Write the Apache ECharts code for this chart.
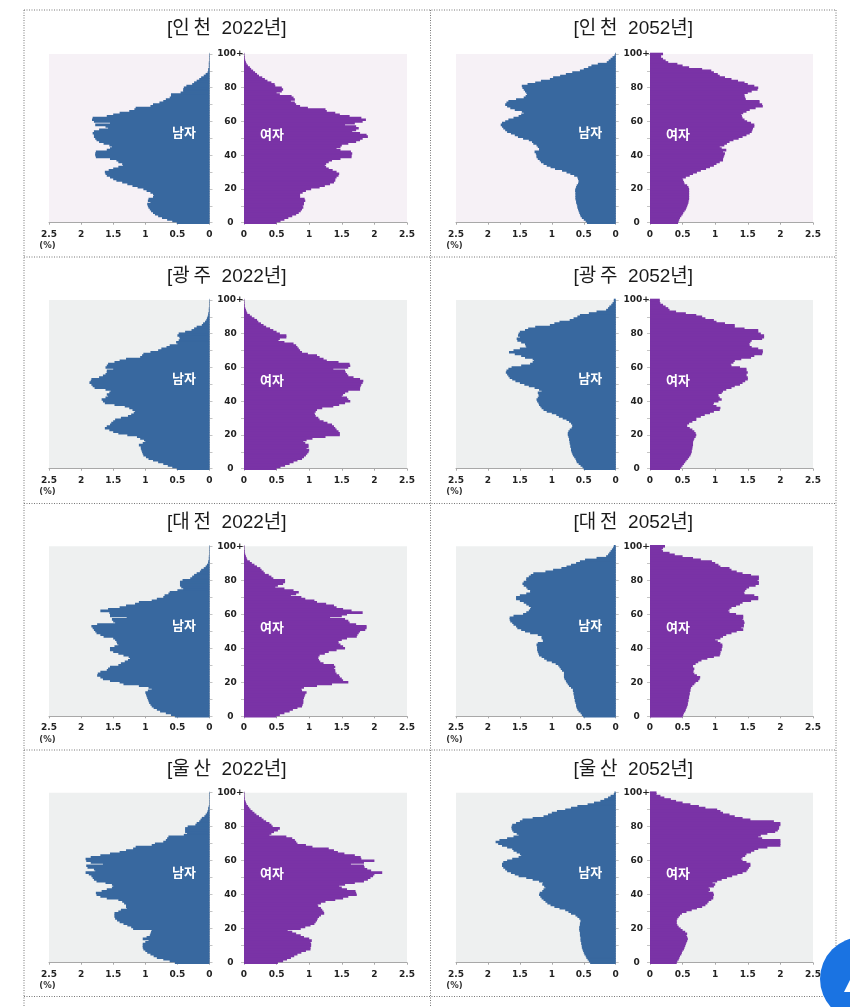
<!DOCTYPE html>
<html lang="ko">
<head>
<meta charset="utf-8">
<style>html,body{margin:0;padding:0;background:#fff}#c{width:850px;height:1007px}</style>
<script src="https://cdn.jsdelivr.net/npm/echarts@6/dist/echarts.min.js"></script>
</head>
<body>
<div id="c"></div>
<script>
const xTicks = 2.5;
const incheon22M = [.51,.58,.66,.74,.80,.85,.88,.91,.93,.95, .96,.97,.92,.96,.95,.88,.87,.88,.92,.98, 1.03,1.12,1.20,1.28,1.36,1.45,1.50,1.55,1.60,1.62, 1.63,1.57,1.50,1.42,1.35,1.36,1.42,1.45,1.55,1.77, 1.78,1.78,1.77,1.60,1.55,1.52,1.56,1.65,1.72,1.76, 1.78,1.80,1.80,1.82,1.80,1.72,1.58,1.62,1.78,1.55, 1.80,1.83,1.82,1.60,1.50,1.40,1.25,1.17,1.15,.92, .88,.78,.72,.68,.62,.60,.60,.45,.41,.41, .40,.36,.27,.24,.20,.16,.13,.09,.06,.03, .02,.02,.01,.01,.01,.01,.005,.005,.005,.005,.005];
const incheon22F = [.50,.56,.62,.68,.74,.80,.84,.87,.89,.91, .90,.92,.92,.94,.93,.86,.86,.86,.90,.95, 1.03,1.16,1.24,1.32,1.38,1.40,1.40,1.42,1.45,1.46, 1.42,1.36,1.30,1.26,1.24,1.26,1.30,1.35,1.48,1.65, 1.65,1.66,1.64,1.48,1.42,1.48,1.50,1.60,1.72,1.78, 1.82,1.90,1.88,1.78,1.66,1.72,1.76,1.72,1.55,1.70, 1.82,1.87,1.80,1.62,1.47,1.40,1.27,1.25,.98,.86, .80,.78,.72,.78,.76,.73,.55,.50,.58,.60, .58,.48,.47,.42,.36,.32,.28,.23,.20,.17, .14,.11,.09,.06,.04,.03,.02,.01,.01,.005,.005];
const incheon52M = [.45,.47,.50,.53,.55,.56,.57,.58,.59,.60, .60,.61,.62,.62,.63,.63,.63,.63,.63,.635, .63,.62,.61,.59,.58,.58,.59,.60,.65,.71, .77,.84,.95,1.02,1.08,1.13,1.17,1.19,1.22,1.24, 1.24,1.25,1.27,1.20,1.20,1.22,1.24,1.29,1.31,1.36, 1.45,1.53,1.58,1.64,1.70,1.73,1.76,1.78,1.80,1.78, 1.73,1.68,1.60,1.52,1.48,1.44,1.47,1.58,1.65,1.70, 1.73,1.71,1.68,1.56,1.44,1.41,1.39,1.40,1.42,1.44, 1.46,1.47,1.38,1.26,1.17,1.03,.98,.87,.78,.68, .56,.50,.43,.38,.28,.14,.11,.08,.05,.02,.01];
const incheon52F = [.43,.44,.45,.46,.48,.50,.51,.53,.55,.56, .57,.58,.59,.59,.60,.60,.60,.60,.60,.60, .60,.59,.57,.53,.52,.51,.50,.55,.61,.66, .72,.78,.86,.92,.98,1.02,1.07,1.12,1.12,1.13, 1.14,1.15,1.12,1.17,1.10,1.07,1.14,1.18,1.22,1.28, 1.36,1.42,1.48,1.53,1.56,1.57,1.58,1.60,1.60,1.55, 1.49,1.45,1.42,1.41,1.40,1.43,1.48,1.53,1.62,1.73, 1.72,1.68,1.68,1.47,1.46,1.45,1.45,1.50,1.56,1.65, 1.66,1.60,1.50,1.45,1.35,1.25,1.15,1.07,1.04,.98, .94,.80,.60,.50,.42,.28,.24,.20,.17,.17,.20];
const gwangju22M = [.51,.58,.65,.72,.80,.88,.95,.99,1.03,1.04, 1.05,1.06,1.07,1.07,1.10,1.04,1.00,1.02,1.08,1.13, 1.28,1.42,1.50,1.56,1.63,1.60,1.55,1.53,1.50,1.47, 1.38,1.27,1.22,1.18,1.16,1.20,1.25,1.32,1.48,1.63, 1.66,1.68,1.62,1.58,1.60,1.56,1.54,1.62,1.79,1.82, 1.84,1.87,1.85,1.84,1.72,1.66,1.62,1.60,1.60,1.50, 1.62,1.60,1.58,1.48,1.40,1.30,1.08,1.05,1.03,.92, .80,.75,.67,.62,.50,.52,.48,.46,.47,.50, .48,.38,.28,.24,.20,.12,.10,.07,.05,.04, .03,.02,.02,.01,.01,.01,.005,.005,.005,.005,.005];
const gwangju22F = [.50,.56,.63,.70,.76,.82,.89,.92,.95,.97, .99,1.00,.96,.99,.99,.94,.91,.96,1.05,1.25, 1.47,1.47,1.45,1.42,1.40,1.38,1.35,1.28,1.22,1.16, 1.14,1.10,1.09,1.08,1.10,1.12,1.20,1.37,1.46,1.55, 1.63,1.60,1.58,1.50,1.52,1.55,1.60,1.78,1.78,1.79, 1.80,1.82,1.83,1.78,1.68,1.60,1.58,1.56,1.55,1.37, 1.60,1.63,1.62,1.45,1.27,1.22,1.16,1.12,.98,.89, .86,.84,.82,.80,.76,.62,.53,.55,.65,.65, .55,.50,.45,.40,.34,.30,.26,.22,.20,.16, .12,.09,.05,.04,.03,.02,.01,.01,.005,.005,.005];
const gwangju52M = [.50,.52,.55,.58,.61,.62,.63,.65,.67,.68, .69,.70,.70,.71,.71,.72,.72,.73,.73,.74, .75,.75,.74,.72,.69,.68,.68,.70,.73,.77, .83,.89,.93,1.00,1.08,1.13,1.16,1.18,1.20,1.21, 1.23,1.24,1.22,1.20,1.21,1.22,1.16,1.20,1.27,1.36, 1.43,1.50,1.57,1.62,1.66,1.68,1.70,1.72,1.71,1.68, 1.63,1.48,1.34,1.30,1.28,1.30,1.42,1.48,1.58,1.67, 1.60,1.50,1.40,1.41,1.42,1.48,1.54,1.55,1.50,1.53, 1.52,1.50,1.42,1.37,1.26,1.03,.96,.88,.72,.66, .60,.56,.42,.30,.15,.12,.10,.07,.05,.03,.03];
const gwangju52F = [.46,.48,.50,.52,.54,.56,.58,.60,.62,.63, .64,.64,.65,.65,.66,.66,.66,.67,.68,.70, .71,.70,.68,.65,.61,.57,.57,.60,.65,.71, .71,.78,.84,.92,.98,1.07,1.08,1.02,.97,.98, 1.05,1.10,1.07,1.05,1.05,1.10,1.12,1.17,1.25,1.30, 1.38,1.42,1.46,1.50,1.50,1.48,1.48,1.50,1.48,1.48, 1.38,1.25,1.24,1.28,1.30,1.40,1.55,1.60,1.72,1.73, 1.73,1.66,1.56,1.53,1.52,1.54,1.56,1.72,1.75,1.75, 1.70,1.66,1.66,1.45,1.30,1.30,1.15,1.02,.98,.85, .80,.71,.55,.40,.30,.28,.24,.20,.16,.15,.15];
const daejeon22M = [.54,.60,.68,.77,.82,.87,.90,.92,.94,.95, .96,.97,.98,.99,1.00,.96,.90,.95,1.10,1.34, 1.40,1.55,1.66,1.70,1.75,1.74,1.70,1.60,1.58,1.55, 1.42,1.38,1.32,1.27,1.24,1.26,1.34,1.42,1.50,1.55, 1.55,1.48,1.42,1.44,1.45,1.47,1.50,1.65,1.70,1.76, 1.78,1.80,1.82,1.84,1.75,1.47,1.50,1.52,1.29,1.55, 1.55,1.56,1.70,1.58,1.40,1.30,1.16,1.10,.90,.82, .72,.70,.64,.62,.50,.41,.44,.46,.46,.46, .42,.30,.27,.24,.20,.15,.13,.09,.06,.04, .02,.02,.01,.01,.01,.005,.005,.005,.005,.005,.005];
const daejeon22F = [.50,.55,.62,.70,.75,.82,.89,.90,.91,.91, .91,.92,.93,.94,.96,.89,.88,.92,1.12,1.35, 1.60,1.52,1.50,1.47,1.46,1.42,1.40,1.40,1.38,1.40, 1.38,1.22,1.17,1.15,1.14,1.14,1.16,1.24,1.30,1.42, 1.55,1.52,1.48,1.45,1.45,1.50,1.58,1.73,1.74,1.76, 1.78,1.86,1.88,1.88,1.72,1.62,1.60,1.55,1.32,1.50, 1.58,1.82,1.65,1.52,1.42,1.38,1.26,1.12,1.08,.94, .88,.72,.80,.84,.76,.62,.48,.52,.60,.63, .63,.45,.42,.38,.32,.30,.27,.25,.20,.16, .12,.09,.05,.04,.03,.02,.01,.01,.005,.005,.005];
const daejeon52M = [.51,.53,.55,.58,.60,.61,.62,.62,.63,.64, .64,.65,.65,.66,.66,.67,.67,.70,.73,.75, .77,.78,.80,.81,.81,.81,.81,.84,.86,.88, .90,.94,1.00,1.08,1.12,1.16,1.20,1.21,1.22,1.23, 1.23,1.23,1.24,1.22,1.14,1.14,1.16,1.16,1.22,1.34, 1.42,1.48,1.54,1.56,1.60,1.62,1.65,1.66,1.66,1.60, 1.45,1.40,1.36,1.34,1.33,1.36,1.40,1.44,1.50,1.56, 1.56,1.50,1.40,1.34,1.34,1.38,1.40,1.44,1.46,1.44, 1.40,1.40,1.36,1.33,1.29,1.10,.98,.85,.77,.70, .62,.56,.48,.30,.15,.12,.10,.08,.06,.04,.03];
const daejeon52F = [.50,.51,.52,.54,.55,.56,.57,.58,.58,.59, .59,.60,.60,.61,.61,.62,.62,.63,.65,.68, .70,.74,.76,.77,.72,.68,.66,.67,.68,.66, .66,.70,.74,.79,.88,.98,1.07,1.08,1.08,1.10, 1.10,1.11,1.11,1.08,1.04,1.00,1.08,1.12,1.17,1.25, 1.33,1.43,1.40,1.44,1.44,1.45,1.44,1.42,1.43,1.43, 1.32,1.22,1.20,1.22,1.25,1.32,1.38,1.42,1.55,1.66, 1.66,1.60,1.45,1.44,1.46,1.48,1.52,1.62,1.67,1.67, 1.65,1.67,1.67,1.55,1.42,1.33,1.25,1.22,1.08,1.05, 1.00,.95,.78,.66,.50,.38,.30,.20,.18,.20,.23];
const ulsan22M = [.54,.62,.72,.82,.87,.92,.97,1.00,1.03,1.04, 1.04,1.04,1.00,.95,1.04,.98,.93,.92,.91,.90, 1.19,1.22,1.28,1.34,1.40,1.44,1.47,1.48,1.48,1.48, 1.42,1.38,1.29,1.30,1.30,1.33,1.36,1.42,1.60,1.70, 1.76,1.77,1.68,1.60,1.52,1.50,1.52,1.62,1.76,1.80, 1.82,1.84,1.88,1.93,1.78,1.80,1.90,1.92,1.66,1.85, 1.92,1.93,1.85,1.70,1.55,1.40,1.30,1.19,1.15,.90, .85,.72,.68,.66,.64,.40,.35,.38,.38,.38, .34,.22,.20,.16,.14,.12,.08,.06,.04,.03, .02,.02,.01,.005,.005,.005,.005,.005,.005,.005,.005];
const ulsan22F = [.52,.60,.66,.72,.77,.82,.88,.95,1.02,1.02, 1.03,1.03,1.02,1.04,1.00,.92,.87,.80,.74,.67, .87,.94,1.02,1.08,1.10,1.12,1.13,1.15,1.18,1.23, 1.22,1.20,1.18,1.14,1.13,1.18,1.25,1.40,1.52,1.60, 1.73,1.72,1.71,1.58,1.50,1.46,1.55,1.70,1.84,1.90, 1.94,1.98,2.00,2.12,1.95,1.89,1.85,1.84,1.64,1.84, 2.00,1.80,1.79,1.70,1.54,1.44,1.38,1.30,1.05,.95, .82,.80,.78,.74,.65,.39,.42,.46,.52,.55, .44,.42,.39,.34,.30,.27,.23,.19,.16,.13, .10,.08,.06,.04,.03,.02,.01,.01,.005,.005,.005];
const ulsan52M = [.40,.42,.44,.46,.47,.49,.50,.51,.52,.53, .53,.54,.54,.55,.55,.55,.56,.56,.56,.57, .57,.57,.56,.56,.55,.55,.57,.60,.63,.70, .74,.79,.88,.96,1.02,1.07,1.10,1.13,1.16,1.18, 1.20,1.19,1.15,1.13,1.10,1.12,1.15,1.14,1.20,1.30, 1.40,1.52,1.58,1.64,1.70,1.73,1.76,1.78,1.78,1.76, 1.70,1.62,1.52,1.48,1.50,1.55,1.60,1.62,1.70,1.78, 1.84,1.88,1.82,1.70,1.60,1.52,1.55,1.60,1.62,1.63, 1.63,1.62,1.56,1.50,1.46,1.30,1.13,1.06,1.00,.92, .79,.70,.60,.44,.34,.24,.18,.12,.08,.03,.02];
const ulsan52F = [.41,.42,.44,.45,.46,.48,.49,.50,.52,.53, .54,.55,.56,.57,.58,.57,.56,.57,.54,.50, .47,.44,.42,.41,.41,.41,.42,.44,.46,.49, .56,.64,.72,.80,.85,.88,.90,.94,.97,.97, .98,.97,.90,.92,.90,.98,1.00,.96,1.03,1.10, 1.18,1.26,1.34,1.42,1.48,1.50,1.52,1.54,1.54,1.48, 1.42,1.40,1.42,1.46,1.48,1.55,1.60,1.66,1.80,2.00, 2.00,2.00,2.00,1.72,1.66,1.70,1.80,1.92,1.96,1.98, 1.98,2.00,2.00,1.90,1.54,1.42,1.30,1.22,1.12,1.08, 1.03,.85,.75,.62,.50,.40,.32,.22,.16,.10,.10];

const regions = ['인\u2009천','광\u2009주','대\u2009전','울\u2009산'];
const years = ['2022년','2052년'];
const series2022 = [[incheon22M,incheon22F],[gwangju22M,gwangju22F],[daejeon22M,daejeon22F],[ulsan22M,ulsan22F]];
const series2052 = [[incheon52M,incheon52F],[gwangju52M,gwangju52F],[daejeon52M,daejeon52F],[ulsan52M,ulsan52F]];
const ages = incheon22M.map((_, i) => i === 100 ? '100+' : String(i));

const rowsTop = [54,300,546.3,792.7];
const rowsBot = [222.7,468.7,716.3,962.7];
const titleY = [29,277,523,770];
const colX = [[49,209.5,244,407],[456,615.7,650,813]];
const BLUE = '#38689f', PURPLE = '#7a33a6';
const font = '"DejaVu Sans",sans-serif';
const titleFont = '"Liberation Sans","Noto Sans CJK KR",sans-serif';
const labelStyle = {color:'#222',fontFamily:font,fontWeight:'bold',fontSize:9};

const W = 850, H = 1007;
const grid=[], xAxis=[], yAxis=[], series=[], graphic=[];
const dotted = {stroke:'#777',lineWidth:1,lineDash:[1,1.5]};
[[24,10,836,10],[24,257,836,257],[24,503.5,836,503.5],[24,750,836,750],[24,996.5,836,996.5],
 [24,10,24,1007],[430.5,10,430.5,1007],[836,10,836,996]].forEach(l=>{
  graphic.push({type:'line',shape:{x1:l[0],y1:l[1],x2:l[2],y2:l[3]},style:dotted,silent:true});
});

regions.forEach((reg,r)=>{
  years.forEach((yr,c)=>{
    const X = colX[c], top = rowsTop[r], bot = rowsBot[r];
    const bg = r===0 ? '#f6f1f6' : '#eef0f0';
    const data = (c===0?series2022:series2052)[r];
    [0,1].forEach(side=>{
      const gi = grid.length;
      const l = side===0?X[0]:X[2], rgt = side===0?X[1]:X[3];
      grid.push({show:true,backgroundColor:bg,borderWidth:0,left:l,width:rgt-l,top:top,height:bot-top,containLabel:false});
      xAxis.push({type:'value',gridIndex:gi,min:0,max:xTicks,interval:.5,inverse:side===0,
        axisLine:{show:true,onZero:false,lineStyle:{color:'#a8a8a8',width:1}},
        axisTick:{show:true,length:2,inside:false,lineStyle:{color:'#a8a8a8'}},
        splitLine:{show:false},
        axisLabel:Object.assign({margin:7,showMinLabel:true,showMaxLabel:true,hideOverlap:false},labelStyle)});
      yAxis.push({type:'category',gridIndex:gi,data:ages,boundaryGap:false,position:side===0?'right':'left',
        axisLine:{show:true,onZero:false,lineStyle:{color:'#c4c4c4'}},
        axisTick:{show:true,length:3,interval:i=>i%10===0,lineStyle:{color:'#c4c4c4'}},
        splitLine:{show:false},
        axisLabel:Object.assign({show:side===0,interval:i=>i%20===0,align:'center',margin:21,showMinLabel:true,showMaxLabel:true,hideOverlap:false},labelStyle)});
      series.push({type:'bar',xAxisIndex:gi,yAxisIndex:gi,data:data[side],barWidth:2.6,silent:true,animation:false,
        itemStyle:{color:side===0?BLUE:PURPLE}});
    });
    const cx = (X[0]+X[3])/2 - 1.2;
    graphic.push({type:'text',x:cx,y:titleY[r],z:20,style:{text:'['+reg+'  '+yr+']',fill:'#1a1a1a',font:'19px '+titleFont,textAlign:'center',textVerticalAlign:'middle'}});
    graphic.push({type:'text',x:X[1]-25.5,y:(top+bot)/2-6,z:20,style:{text:'남자',fill:'#fff',font:'bold 13px "Noto Sans CJK KR"',textAlign:'center',textVerticalAlign:'middle'}});
    graphic.push({type:'text',x:X[2]+28,y:(top+bot)/2-4.5,z:20,style:{text:'여자',fill:'#fff',font:'bold 13px "Noto Sans CJK KR"',textAlign:'center',textVerticalAlign:'middle'}});
    graphic.push({type:'text',x:X[0]-1.5,y:bot+23.5,z:20,style:{text:'(%)',fill:'#333',font:'bold 8.5px "DejaVu Sans"',textAlign:'center',textVerticalAlign:'middle'}});
  });
});
graphic.push({type:'circle',shape:{cx:862,cy:979,r:42},style:{fill:'#1a73e2'},z:30});
graphic.push({type:'polygon',shape:{points:[[850,980],[850,992],[844,992]]},style:{fill:'#fff'},z:31});

const chart = echarts.init(document.getElementById('c'),null,{renderer:'canvas',width:W,height:H});
chart.setOption({animation:false,backgroundColor:'#fff',grid,xAxis,yAxis,series,graphic});
</script>
</body>
</html>
